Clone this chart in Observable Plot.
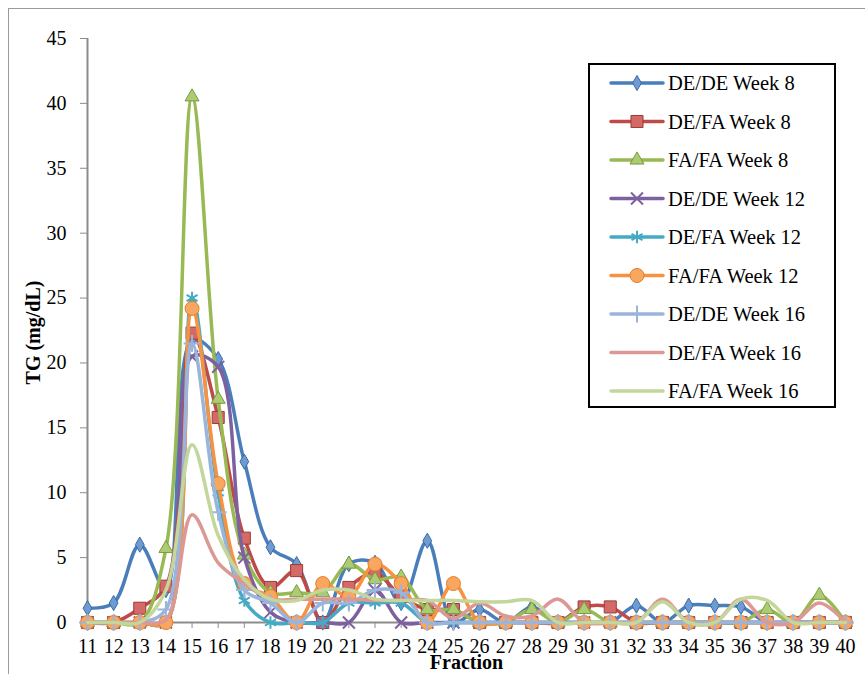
<!DOCTYPE html>
<html><head><meta charset="utf-8">
<script src="https://cdn.jsdelivr.net/npm/d3@7"></script>
<script src="https://cdn.jsdelivr.net/npm/@observablehq/plot@0.6"></script>
<style>
body{margin:0;background:#fff;}
#wrap{position:relative;width:865px;height:674px;overflow:hidden;}
#border{position:absolute;left:8px;top:8px;width:880px;height:690px;border:1px solid #9a9a9a;}
#chart{position:absolute;left:0;top:0;}
#legend{position:absolute;left:588px;top:63px;width:244px;height:341px;border:2px solid #000;background:#fff;}
</style></head><body>
<div id="wrap"><div id="border"></div><div id="chart"></div><div id="legend"></div></div>
<script>
const fractions = [11,12,13,14,15,16,17,18,19,20,21,22,23,24,25,26,27,28,29,30,31,32,33,34,35,36,37,38,39,40];
const yTicks = [0,5,10,15,20,25,30,35,40,45];
const seriesNames = ["DE/DE Week 8","DE/FA Week 8","FA/FA Week 8","DE/DE Week 12","DE/FA Week 12","FA/FA Week 12","DE/DE Week 16","DE/FA Week 16","FA/FA Week 16"];
const deDeW8  = [1.1,1.5,6.0,2.5,21.8,20.3,12.4,5.8,4.5,0,4.5,4.6,1.5,6.3,0,1.0,0,1.2,0,0,0,1.3,0,1.3,1.3,1.2,0,0,0,0];
const deFaW8  = [0,0,1.1,2.8,22.3,15.8,6.5,2.7,4.0,0,2.7,3.8,2.0,1.0,1.0,0,0,0,0,1.2,1.2,0,0,0,0,0,0,0,0,0];
const faFaW8  = [0,0,0,5.7,40.5,17.2,5.2,2.3,2.3,2.3,4.5,3.3,3.5,1.0,1.0,0,0,1.0,0,1.0,0,0,0,0,0,0,1.0,0,2.1,0];
const deDeW12 = [0,0,0,0,20.5,19.7,5.0,0.8,0,0,0,2.5,0,0,0,0,0,0,0,0,0,0,0,0,0,0,0,0,0,0];
const deFaW12 = [0,0,0,0,25.0,10.0,1.7,0,0,0,1.5,1.5,1.5,0,0,0,0,0,0,0,0,0,0,0,0,0,0,0,0,0];
const faFaW12 = [0,0,0,0,24.2,10.7,3.0,2.0,0,3.0,2.0,4.5,3.0,0,3.0,0,0,0,0,0,0,0,0,0,0,0,0,0,0,0];
const deDeW16 = [0,0,0,1.0,21.5,8.5,2.5,1.5,0,1.5,1.5,2.5,2.3,0,0,0,0,0,0,0,0,0,0,0,0,0,0,0,0,0];
const deFaW16 = [0,0,0,0.2,8.3,4.6,3.0,1.8,1.8,1.8,1.8,1.7,1.7,1.7,0.3,1.5,0.5,0.5,1.8,0,0,0,1.8,0,0,1.8,0,0,1.5,0];
const faFaW16 = [0,0,0,2.5,13.7,6.7,3.3,1.8,1.7,2.5,2.5,1.8,1.7,1.7,1.7,1.6,1.6,1.7,0,0,0,0,1.6,0,0,1.8,1.7,0,0,0];

const seriesValues = [deDeW8,deFaW8,faFaW8,deDeW12,deFaW12,faFaW12,deDeW16,deFaW16,faFaW16];
const colors   = ["#4A7EBB","#BE4B48","#98B954","#7D60A0","#46AAC5","#F69240","#9AB5DB","#DB9895","#C3D69B"];
const mFill    = ["#6F9BD4","#D46A67","#ADCB72","none","none","#F9A65E","none",null,null];
const mStroke  = ["#3A6A9E","#9B3B38","#7A9A3E","#7D60A0","#46AAC5","#E07F2E","#9AB5DB",null,null];
const symbols  = ["diamond","square","triangle","times","asterisk","circle","plus",null,null];
const radii    = [4.6,6.8,5.2,5.5,6,7,5.5,0,0];

const marks = [
  Plot.ruleX([11], {stroke:"#8c8c8c", strokeWidth:2}),
  Plot.ruleY([0], {stroke:"#8c8c8c", strokeWidth:2}),
  Plot.axisY({ticks: yTicks, tickSize: 7, tickPadding: 14, stroke:"#8c8c8c", fill:"#000", label:null, tickFormat: d=>String(d)}),
  Plot.axisX({ticks: fractions, tickSize: 6, tickPadding: 10, stroke:"#8c8c8c", fill:"#000", label:null, tickFormat: d=>String(d)}),
  Plot.text(["Fraction"], {frameAnchor:"bottom", dy: 46, fontWeight:"bold", fontSize: 20, fill:"#000"}),
  Plot.text(["TG (mg/dL)"], {frameAnchor:"left", textAnchor:"middle", dx: -54, dy: 2, rotate: -90, fontWeight:"bold", fontSize: 20, fill:"#000"})
];
seriesValues.forEach((vals, k) => {
  const rows = fractions.map((f,i) => ({f, v: vals[i]}));
  marks.push(Plot.line(rows, {x:"f", y:"v", stroke: colors[k], strokeWidth: 3.5, curve:"catmull-rom", strokeLinejoin:"round"}));
  if (symbols[k]) {
    const hollow = mFill[k] === "none";
    marks.push(Plot.dot(rows, {x:"f", y:"v", symbol: symbols[k], r: radii[k],
      fill: hollow ? "none" : mFill[k], stroke: mStroke[k], strokeWidth: hollow ? 2 : 1}));
  }
});

const chart = Plot.plot({
  width: 865, height: 674,
  marginLeft: 87, marginRight: 20, marginTop: 38, marginBottom: 52,
  x: {domain: [11,40]},
  y: {domain: [0,45]},
  style: {fontFamily: "'Liberation Serif', serif", fontSize: "20px", color: "#000", background: "transparent", overflow: "visible"},
  marks
});
document.getElementById("chart").appendChild(chart);

// legend
const symMap = {diamond: d3.symbolDiamond, square: d3.symbolSquare, triangle: d3.symbolTriangle, times: d3.symbolTimes, asterisk: d3.symbolAsterisk, circle: d3.symbolCircle, plus: d3.symbolPlus};
const lg = d3.select("#legend").append("svg").attr("width", 244).attr("height", 341)
  .style("font-family", "'Liberation Serif', serif").style("font-size", "20.5px");
seriesNames.forEach((name, k) => {
  const y = 18 + k * 38.5;
  const g = lg.append("g").attr("transform", `translate(0,${y})`);
  g.append("line").attr("x1", 21).attr("x2", 73).attr("y1", 0).attr("y2", 0)
    .attr("stroke", colors[k]).attr("stroke-width", 3.5).attr("stroke-linecap", "round");
  if (symbols[k]) {
    const hollow = mFill[k] === "none";
    g.append("path").attr("transform", "translate(47,0)")
      .attr("d", d3.symbol(symMap[symbols[k]], Math.PI * radii[k] * radii[k])())
      .attr("fill", hollow ? "none" : mFill[k]).attr("stroke", mStroke[k]).attr("stroke-width", hollow ? 2 : 1);
  }
  g.append("text").attr("x", 78).attr("y", 0).attr("dy", "0.35em").attr("fill", "#000").text(name);
});
</script>
</body></html>
